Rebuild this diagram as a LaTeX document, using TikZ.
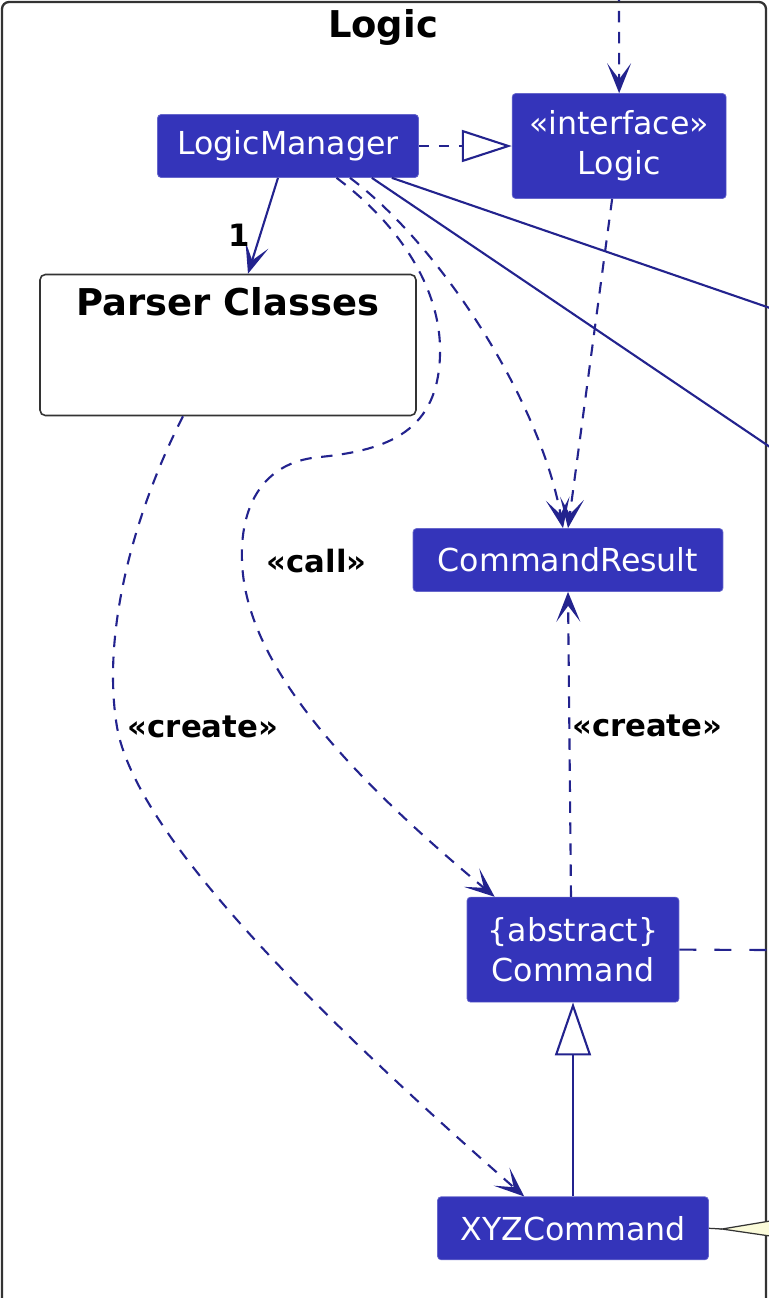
\documentclass[tikz,border=0pt]{standalone}
\usepackage{fontspec}
\setmainfont{DejaVu Sans}
\usepackage{xcolor}
\usetikzlibrary{arrows.meta,positioning}
\definecolor{clsblue}{HTML}{3434BA}
\definecolor{lnblue}{HTML}{23238E}
\definecolor{framegray}{HTML}{333333}
\definecolor{noteyel}{HTML}{FBFBDA}

\begin{document}
\begin{tikzpicture}[
  x=0.02cm, y=-0.02cm,
  cls/.style={fill=clsblue, draw=clsblue!75!white, rounded corners=2pt, text=white, align=center,
    font=\fontsize{18}{23}\selectfont, inner sep=2pt, minimum height=1.26cm},
  pkg/.style={draw=framegray, line width=0.9pt, rounded corners=3pt, fill=white,
    minimum width=7.52cm, minimum height=2.82cm},
  lbl/.style={font=\fontsize{17.5}{20}\selectfont\bfseries, inner sep=1pt},
  dep/.style={draw=lnblue, line width=1.2pt, dash pattern=on 0.23cm off 0.19cm,
    -{Stealth[length=0.6cm, width=0.48cm, inset=0.32cm]}},
  real/.style={draw=lnblue, line width=1.2pt, dash pattern=on 0.2cm off 0.2cm,
    -{Triangle[open, length=1cm, width=0.64cm]}},
  gen/.style={draw=lnblue, line width=1.2pt, -{Triangle[open, length=1.06cm, width=0.72cm]}},
  assoc/.style={draw=lnblue, line width=1.2pt},
  nav/.style={assoc, -{Stealth[length=0.6cm, width=0.48cm, inset=0.32cm]}}
]
\useasboundingbox (0,0) rectangle (768,1298);
\draw[draw=framegray, line width=1.3pt, rounded corners=4pt] (2,2) rectangle (766,1340);
\node[font=\fontsize{21}{25}\selectfont\bfseries] (title) at (383,27) {Logic};

\node[cls, minimum width=5.22cm] (lm) at (288,146) {LogicManager};
\node[cls, minimum width=4.28cm, minimum height=2.1cm, right=1.86cm of lm] (logic) {«interface»\\Logic};
\node[pkg, label={[font=\fontsize{21}{25}\selectfont\bfseries, anchor=north, inner sep=0pt, yshift=-0.26cm]north:{Parser Classes}}] (parser) at (228,345) {};
\node[cls, minimum width=6.2cm] (res) at (568,560) {CommandResult};
\node[cls, minimum width=4.24cm, minimum height=2.1cm, below=6.1cm of res, xshift=0.1cm] (cmd) {\{abstract\}\\Command};
\node[cls, minimum width=5.42cm, below=3.88cm of cmd] (xyz) {XYZCommand};

\coordinate (topin) at (619,-10);
\coordinate (outa) at (770,308);
\coordinate (outb) at (770,447);
\coordinate (outc) at (770,950);
\coordinate (notetip) at (722,1229);

\draw[dep] (topin) -- (logic.north);
\draw[real] (lm.east) -- (lm.east -| logic.west);
\draw[nav] ([xshift=-0.2cm]lm.south) -- node[lbl, pos=0.6, left=0.14cm] {1} ([xshift=0.4cm]parser.north);
\draw[assoc] ([xshift=-0.54cm]lm.south east) -- (outa);
\draw[assoc] ([xshift=-0.94cm]lm.south east) -- (outb);
\draw[dep] ([xshift=1.24cm]lm.south) .. controls (440,245) and (540,400) .. ([xshift=-0.1cm]res.north);
\draw[dep] ([xshift=-0.14cm]logic.south) -- (res.north);
\draw[dep] ([xshift=0.97cm]lm.south) .. controls (400,225) and (442,290) .. (440,355)
  .. controls (438,430) and (390,450) .. (320,457)
  .. controls (260,462) and (240,510) .. (242,561) node[lbl, right=0.44cm] {«call»}
  .. controls (245,655) and (330,760) .. ([xshift=0.56cm]cmd.north west);
\draw[dep] ([xshift=-0.9cm]parser.south) .. controls (140,500) and (100,625) .. (117,727) node[lbl, right=0.16cm] {«create»}
  .. controls (135,830) and (300,1000) .. ([xshift=1.74cm]xyz.north west);
\draw[dep] ([xshift=-0.04cm]cmd.north) -- node[lbl, pos=0.56, right=0cm] {«create»} (res.south);
\draw[assoc, dash pattern=on 0.34cm off 0.36cm] (cmd.east) -- (outc);
\draw[gen] (xyz.north) -- (cmd.south);
\draw[draw=framegray, line width=0.7pt] (xyz.east) -- (notetip);
\filldraw[fill=noteyel, draw=framegray, line width=0.7pt] (notetip) -- (770,1221) -- (770,1236) -- cycle;
\end{tikzpicture}
\end{document}
